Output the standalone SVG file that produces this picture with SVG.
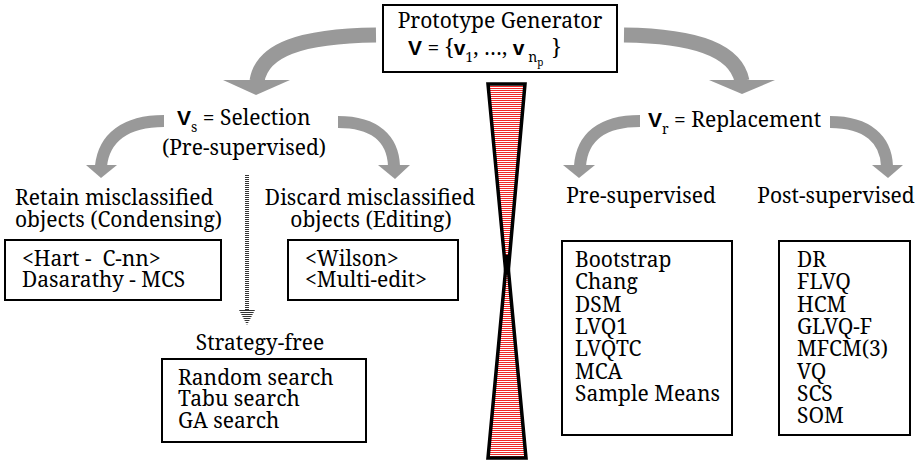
<svg xmlns="http://www.w3.org/2000/svg" width="923" height="463" viewBox="0 0 923 463">
<style>
.t{font-family:"Noto Serif","Liberation Serif",serif;font-size:21px;fill:#000}
.b{font-family:"Liberation Sans",Arial,sans-serif;font-weight:bold}
.sub{font-size:14px}
.box{fill:#fff;stroke:#000;stroke-width:2}
.shaft{fill:none;stroke:#999}
.head{fill:#999}
</style>
<defs>
<pattern id="red" width="4" height="2" patternUnits="userSpaceOnUse"><rect width="4" height="2" fill="#fff"/><rect width="4" height="1" fill="#f02828"/></pattern>
<pattern id="grey" width="4" height="2" patternUnits="userSpaceOnUse"><rect width="4" height="2" fill="#fff"/><rect width="4" height="1" fill="#333"/></pattern>
</defs>
<rect width="923" height="463" fill="#fff"/>

<g id="hourglass">
<polygon points="488,84 525,84 507,285" fill="url(#red)" stroke="#000" stroke-width="3.5"/>
<polygon points="488,458 526,458 507,255" fill="url(#red)" stroke="#000" stroke-width="3.5"/>
</g>

<g id="connectors">
<path class="shaft" stroke-width="15" d="M 376 35 C 300 36, 262 50, 257 81"/>
<polygon class="head" points="223,80 290,80 256,95"/>
<path class="shaft" stroke-width="15" d="M 624 35 C 700 36, 736 52, 742 81"/>
<polygon class="head" points="709,80 775,80 742,94"/>
<path class="shaft" stroke-width="12" d="M 164 121 C 125 121, 104 138, 101 166"/>
<polygon class="head" points="86,165 117,165 101,178"/>
<path class="shaft" stroke-width="12" d="M 338 122 C 376 122, 393 140, 394 166"/>
<polygon class="head" points="378,165 410,165 395,179"/>
<path class="shaft" stroke-width="12" d="M 640 121 C 601 121, 582 138, 580 166"/>
<polygon class="head" points="563,165 595,165 579,178"/>
<path class="shaft" stroke-width="12" d="M 830 122 C 868 122, 886 140, 887 166"/>
<polygon class="head" points="872,165 903,165 888,178"/>
<line x1="247" y1="175" x2="247" y2="311" stroke="#333" stroke-width="4" stroke-dasharray="1 1"/>
<polygon points="239,310 255,310 247,325" fill="url(#grey)"/>
</g>

<g id="generator">
<rect class="box" x="383" y="5" width="234" height="67"/>
<text class="t" x="500" y="28" text-anchor="middle">Prototype Generator</text>
<text class="t" x="408" y="55"><tspan class="b">V</tspan> = {<tspan class="b">v</tspan><tspan class="sub" dy="7">1</tspan><tspan dy="-7">, …, </tspan><tspan class="b">v</tspan><tspan class="sub" dx="4" dy="7">n</tspan><tspan font-size="10" dy="4">p</tspan><tspan dx="3" dy="-11">&#160;}</tspan></text>
</g>

<g id="selection">
<text class="t" x="177" y="125"><tspan class="b">V</tspan><tspan class="sub" dy="7">s</tspan><tspan dy="-7"> = Selection</tspan></text>
<text class="t" x="244" y="155" text-anchor="middle">(Pre-supervised)</text>
</g>

<g id="replacement">
<text class="t" x="648" y="127"><tspan class="b">V</tspan><tspan class="sub" dy="7">r</tspan><tspan dy="-7"> = Replacement</tspan></text>
</g>

<g id="condensing">
<text class="t" x="15" y="205">Retain misclassified</text>
<text class="t" x="15" y="227">objects (Condensing)</text>
<rect class="box" x="5" y="240" width="216" height="60"/>
<text class="t" x="22" y="266">&lt;Hart -&#160; C-nn&gt;</text>
<text class="t" x="22" y="287">Dasarathy - MCS</text>
</g>

<g id="editing">
<text class="t" x="370" y="205" text-anchor="middle">Discard misclassified</text>
<text class="t" x="371" y="227" text-anchor="middle">objects (Editing)</text>
<rect class="box" x="288" y="240" width="170" height="60"/>
<text class="t" x="305" y="266">&lt;Wilson&gt;</text>
<text class="t" x="305" y="287">&lt;Multi-edit&gt;</text>
</g>

<g id="strategy-free">
<text class="t" x="260" y="350" text-anchor="middle">Strategy-free</text>
<rect class="box" x="162" y="359" width="204" height="83"/>
<text class="t" x="178" y="385">Random search</text>
<text class="t" x="178" y="406">Tabu search</text>
<text class="t" x="178" y="428">GA search</text>
</g>

<g id="pre-supervised">
<text class="t" x="641" y="203" text-anchor="middle">Pre-supervised</text>
<rect class="box" x="562" y="241" width="170" height="194"/>
<text class="t" x="575" y="267">Bootstrap</text>
<text class="t" x="575" y="289">Chang</text>
<text class="t" x="575" y="312">DSM</text>
<text class="t" x="575" y="334">LVQ1</text>
<text class="t" x="575" y="356">LVQTC</text>
<text class="t" x="575" y="379">MCA</text>
<text class="t" x="575" y="401">Sample Means</text>
</g>

<g id="post-supervised">
<text class="t" x="836" y="203" text-anchor="middle">Post-supervised</text>
<rect class="box" x="779" y="241" width="131" height="194"/>
<text class="t" x="797" y="267">DR</text>
<text class="t" x="797" y="289">FLVQ</text>
<text class="t" x="797" y="312">HCM</text>
<text class="t" x="797" y="334">GLVQ-F</text>
<text class="t" x="797" y="356">MFCM(3)</text>
<text class="t" x="797" y="379">VQ</text>
<text class="t" x="797" y="401">SCS</text>
<text class="t" x="797" y="423">SOM</text>
</g>
</svg>
